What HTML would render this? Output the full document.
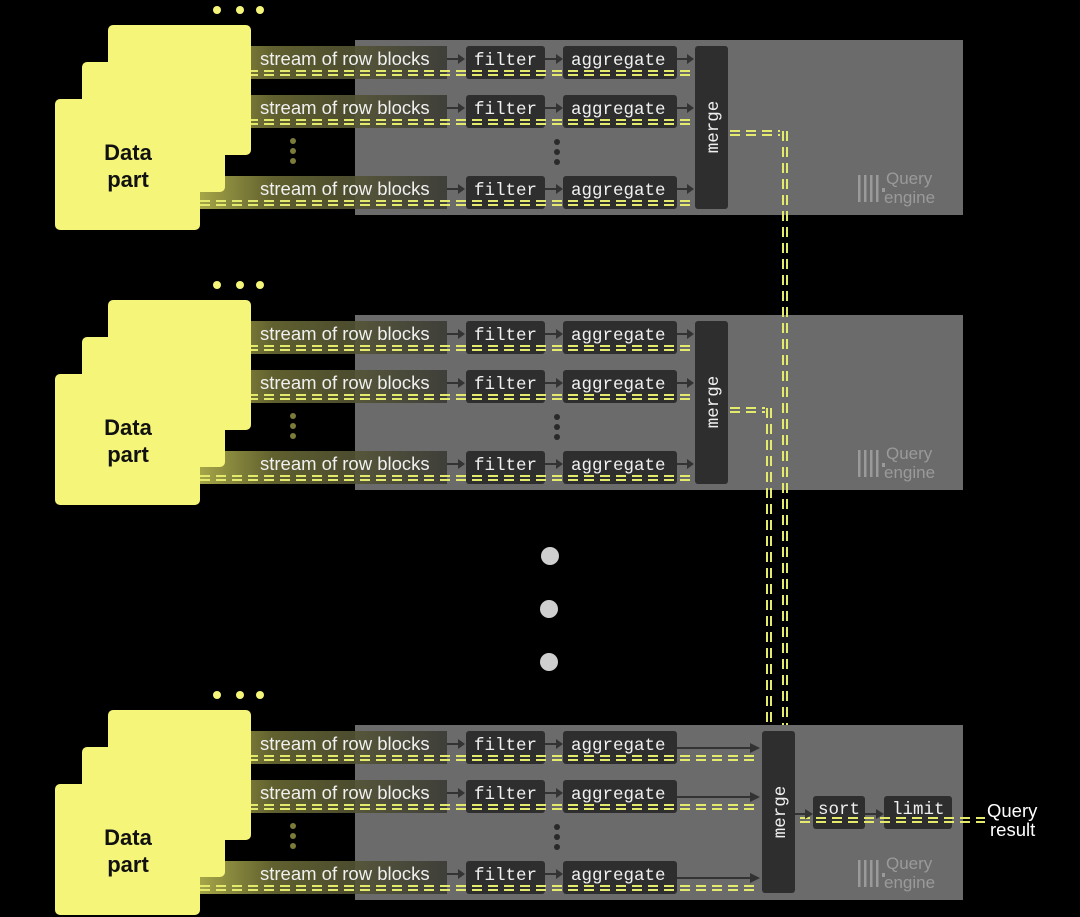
<!DOCTYPE html>
<html><head><meta charset="utf-8"><style>
html,body{margin:0;padding:0;background:#000;}
svg{display:block;}
.st{font-family:"Liberation Sans",sans-serif;font-size:18.5px;fill:#f0f0f0;}
.mo{font-family:"Liberation Mono",monospace;font-size:17.5px;fill:#f0f0f0;}
.dp{font-family:"Liberation Sans",sans-serif;font-size:22px;font-weight:bold;fill:#111;}
.qe{font-family:"Liberation Sans",sans-serif;font-size:17px;fill:#9a9a9a;}
.d{stroke:#e4ea6c;stroke-width:2;stroke-dasharray:10 6;fill:none;}
.box{fill:#2e2e2e;}
.ar{stroke:#333;stroke-width:2;fill:none;}
</style></head><body>
<svg width="1080" height="917" viewBox="0 0 1080 917" xmlns="http://www.w3.org/2000/svg">
<defs>
<linearGradient id="gl" x1="0" x2="1" y1="0" y2="0">
<stop offset="0" stop-color="#b8b850"/><stop offset="0.3" stop-color="#6a6a34"/><stop offset="1" stop-color="#3a3a34"/>
</linearGradient>
</defs>

<!-- GROUP 1 -->
<g>
<rect x="355" y="40" width="608" height="175" fill="#6b6b6b"/>
<circle cx="217" cy="10" r="4" fill="#f5f57a"/><circle cx="240" cy="10" r="4" fill="#f5f57a"/><circle cx="260" cy="10" r="4" fill="#f5f57a"/>
<rect x="200" y="46" width="247" height="33" fill="url(#gl)" opacity="0.9"/>
<rect x="200" y="95" width="247" height="33" fill="url(#gl)" opacity="0.9"/>
<rect x="200" y="176" width="247" height="33" fill="url(#gl)" opacity="0.9"/>
<rect class="box" x="466" y="46" width="79" height="33" rx="3"/><rect class="box" x="466" y="95" width="79" height="33" rx="3"/><rect class="box" x="466" y="176" width="79" height="33" rx="3"/>
<rect class="box" x="563" y="46" width="114" height="33" rx="3"/><rect class="box" x="563" y="95" width="114" height="33" rx="3"/><rect class="box" x="563" y="176" width="114" height="33" rx="3"/>
<path class="d" d="M200 71H690M200 75H690M200 120H690M200 124H690M200 201H690M200 205H690M730 131H780M730 135H780"/>
<rect x="108" y="25" width="143" height="130" rx="5" fill="#f5f57a"/>
<rect x="82" y="62" width="143" height="130" rx="5" fill="#f5f57a"/>
<rect x="55" y="99" width="145" height="131" rx="5" fill="#f5f57a"/>
<text class="dp" x="128" y="160" text-anchor="middle">Data</text><text class="dp" x="128" y="187" text-anchor="middle">part</text>
<text class="st" x="260" y="65">stream of row blocks</text><text class="st" x="260" y="114">stream of row blocks</text><text class="st" x="260" y="195">stream of row blocks</text>
<text class="mo" x="474" y="65">filter</text><text class="mo" x="474" y="114">filter</text><text class="mo" x="474" y="195">filter</text>
<text class="mo" x="571" y="65">aggregate</text><text class="mo" x="571" y="114">aggregate</text><text class="mo" x="571" y="195">aggregate</text>
<path class="ar" d="M447 59h12M545 59h12M677 59h10M447 108h12M545 108h12M677 108h10M447 189h12M545 189h12M677 189h10"/>
<path fill="#333" d="M465 59l-7-5v10zM563 59l-7-5v10zM694 59l-7-5v10zM465 108l-7-5v10zM563 108l-7-5v10zM694 108l-7-5v10zM465 189l-7-5v10zM563 189l-7-5v10zM694 189l-7-5v10z"/>
<rect class="box" x="695" y="46" width="33" height="163" rx="3"/>
<text class="mo" transform="translate(718,127) rotate(-90)" text-anchor="middle">merge</text>
<g fill="#7c7c3a"><circle cx="293" cy="141" r="3"/><circle cx="293" cy="151" r="3"/><circle cx="293" cy="161" r="3"/></g>
<g fill="#2a2a2a"><circle cx="557" cy="142" r="3"/><circle cx="557" cy="152" r="3"/><circle cx="557" cy="162" r="3"/></g>
<g fill="#9a9a9a"><rect x="858" y="175" width="2.5" height="27"/><rect x="864" y="175" width="2.5" height="27"/><rect x="870" y="175" width="2.5" height="27"/><rect x="876" y="175" width="2.5" height="27"/><rect x="882" y="188" width="3" height="4"/></g>
<text class="qe" x="886" y="184">Query</text><text class="qe" x="884" y="203">engine</text>
</g>

<!-- GROUP 2 -->
<g transform="translate(0,275)">
<rect x="355" y="40" width="608" height="175" fill="#6b6b6b"/>
<circle cx="217" cy="10" r="4" fill="#f5f57a"/><circle cx="240" cy="10" r="4" fill="#f5f57a"/><circle cx="260" cy="10" r="4" fill="#f5f57a"/>
<rect x="200" y="46" width="247" height="33" fill="url(#gl)" opacity="0.9"/>
<rect x="200" y="95" width="247" height="33" fill="url(#gl)" opacity="0.9"/>
<rect x="200" y="176" width="247" height="33" fill="url(#gl)" opacity="0.9"/>
<rect class="box" x="466" y="46" width="79" height="33" rx="3"/><rect class="box" x="466" y="95" width="79" height="33" rx="3"/><rect class="box" x="466" y="176" width="79" height="33" rx="3"/>
<rect class="box" x="563" y="46" width="114" height="33" rx="3"/><rect class="box" x="563" y="95" width="114" height="33" rx="3"/><rect class="box" x="563" y="176" width="114" height="33" rx="3"/>
<path class="d" d="M200 71H690M200 75H690M200 120H690M200 124H690M200 201H690M200 205H690M730 133H765M730 137H765"/>
<rect x="108" y="25" width="143" height="130" rx="5" fill="#f5f57a"/>
<rect x="82" y="62" width="143" height="130" rx="5" fill="#f5f57a"/>
<rect x="55" y="99" width="145" height="131" rx="5" fill="#f5f57a"/>
<text class="dp" x="128" y="160" text-anchor="middle">Data</text><text class="dp" x="128" y="187" text-anchor="middle">part</text>
<text class="st" x="260" y="65">stream of row blocks</text><text class="st" x="260" y="114">stream of row blocks</text><text class="st" x="260" y="195">stream of row blocks</text>
<text class="mo" x="474" y="65">filter</text><text class="mo" x="474" y="114">filter</text><text class="mo" x="474" y="195">filter</text>
<text class="mo" x="571" y="65">aggregate</text><text class="mo" x="571" y="114">aggregate</text><text class="mo" x="571" y="195">aggregate</text>
<path class="ar" d="M447 59h12M545 59h12M677 59h10M447 108h12M545 108h12M677 108h10M447 189h12M545 189h12M677 189h10"/>
<path fill="#333" d="M465 59l-7-5v10zM563 59l-7-5v10zM694 59l-7-5v10zM465 108l-7-5v10zM563 108l-7-5v10zM694 108l-7-5v10zM465 189l-7-5v10zM563 189l-7-5v10zM694 189l-7-5v10z"/>
<rect class="box" x="695" y="46" width="33" height="163" rx="3"/>
<text class="mo" transform="translate(718,127) rotate(-90)" text-anchor="middle">merge</text>
<g fill="#7c7c3a"><circle cx="293" cy="141" r="3"/><circle cx="293" cy="151" r="3"/><circle cx="293" cy="161" r="3"/></g>
<g fill="#2a2a2a"><circle cx="557" cy="142" r="3"/><circle cx="557" cy="152" r="3"/><circle cx="557" cy="162" r="3"/></g>
<g fill="#9a9a9a"><rect x="858" y="175" width="2.5" height="27"/><rect x="864" y="175" width="2.5" height="27"/><rect x="870" y="175" width="2.5" height="27"/><rect x="876" y="175" width="2.5" height="27"/><rect x="882" y="188" width="3" height="4"/></g>
<text class="qe" x="886" y="184">Query</text><text class="qe" x="884" y="203">engine</text>
</g>

<!-- big dots -->
<g fill="#cfcfcf"><circle cx="550" cy="556" r="9"/><circle cx="549" cy="609" r="9"/><circle cx="549" cy="662" r="9"/></g>

<!-- GROUP 3 -->
<g transform="translate(0,685)">
<rect x="355" y="40" width="608" height="175" fill="#6b6b6b"/>
<circle cx="217" cy="10" r="4" fill="#f5f57a"/><circle cx="240" cy="10" r="4" fill="#f5f57a"/><circle cx="260" cy="10" r="4" fill="#f5f57a"/>
<rect x="200" y="46" width="247" height="33" fill="url(#gl)" opacity="0.9"/>
<rect x="200" y="95" width="247" height="33" fill="url(#gl)" opacity="0.9"/>
<rect x="200" y="176" width="247" height="33" fill="url(#gl)" opacity="0.9"/>
<rect class="box" x="466" y="46" width="79" height="33" rx="3"/><rect class="box" x="466" y="95" width="79" height="33" rx="3"/><rect class="box" x="466" y="176" width="79" height="33" rx="3"/>
<rect class="box" x="563" y="46" width="114" height="33" rx="3"/><rect class="box" x="563" y="95" width="114" height="33" rx="3"/><rect class="box" x="563" y="176" width="114" height="33" rx="3"/>
<rect class="box" x="813" y="111" width="52" height="33" rx="3"/>
<rect class="box" x="884" y="111" width="68" height="33" rx="3"/>
<path class="d" d="M200 71H757M200 75H757M200 120H757M200 124H757M200 201H757M200 205H757M800 133H985M800 137H985"/>
<rect x="108" y="25" width="143" height="130" rx="5" fill="#f5f57a"/>
<rect x="82" y="62" width="143" height="130" rx="5" fill="#f5f57a"/>
<rect x="55" y="99" width="145" height="131" rx="5" fill="#f5f57a"/>
<text class="dp" x="128" y="160" text-anchor="middle">Data</text><text class="dp" x="128" y="187" text-anchor="middle">part</text>
<text class="st" x="260" y="65">stream of row blocks</text><text class="st" x="260" y="114">stream of row blocks</text><text class="st" x="260" y="195">stream of row blocks</text>
<text class="mo" x="474" y="65">filter</text><text class="mo" x="474" y="114">filter</text><text class="mo" x="474" y="195">filter</text>
<text class="mo" x="571" y="65">aggregate</text><text class="mo" x="571" y="114">aggregate</text><text class="mo" x="571" y="195">aggregate</text>
<path class="ar" d="M447 59h12M545 59h12M447 108h12M545 108h12M447 189h12M545 189h12"/>
<path fill="#333" d="M465 59l-7-5v10zM563 59l-7-5v10zM465 108l-7-5v10zM563 108l-7-5v10zM465 189l-7-5v10zM563 189l-7-5v10z"/>
<path class="ar" d="M677 63h80M677 112h80M677 193h80M795 129h12M865 129h13"/>
<path fill="#333" d="M760 63l-10-5v10zM760 112l-10-5v10zM760 193l-10-5v10zM813 129l-8-5v10zM884 129l-8-5v10z"/>
<rect class="box" x="762" y="46" width="33" height="162" rx="3"/>
<text class="mo" transform="translate(785,127) rotate(-90)" text-anchor="middle">merge</text>
<text class="mo" x="818" y="129">sort</text><text class="mo" x="892" y="129">limit</text>
<g fill="#7c7c3a"><circle cx="293" cy="141" r="3"/><circle cx="293" cy="151" r="3"/><circle cx="293" cy="161" r="3"/></g>
<g fill="#2a2a2a"><circle cx="557" cy="142" r="3"/><circle cx="557" cy="152" r="3"/><circle cx="557" cy="162" r="3"/></g>
<g fill="#9a9a9a"><rect x="858" y="175" width="2.5" height="27"/><rect x="864" y="175" width="2.5" height="27"/><rect x="870" y="175" width="2.5" height="27"/><rect x="876" y="175" width="2.5" height="27"/><rect x="882" y="188" width="3" height="4"/></g>
<text class="qe" x="886" y="184">Query</text><text class="qe" x="884" y="203">engine</text>
<text class="st" x="987" y="132" style="fill:#fff">Query</text><text class="st" x="990" y="151" style="fill:#fff">result</text>
</g>

<!-- vertical connectors on top -->
<line class="d" x1="783" y1="131" x2="783" y2="725"/><line class="d" x1="787" y1="131" x2="787" y2="725"/>
<line class="d" x1="767" y1="408" x2="767" y2="725"/><line class="d" x1="771" y1="408" x2="771" y2="725"/>
</svg>
</body></html>
